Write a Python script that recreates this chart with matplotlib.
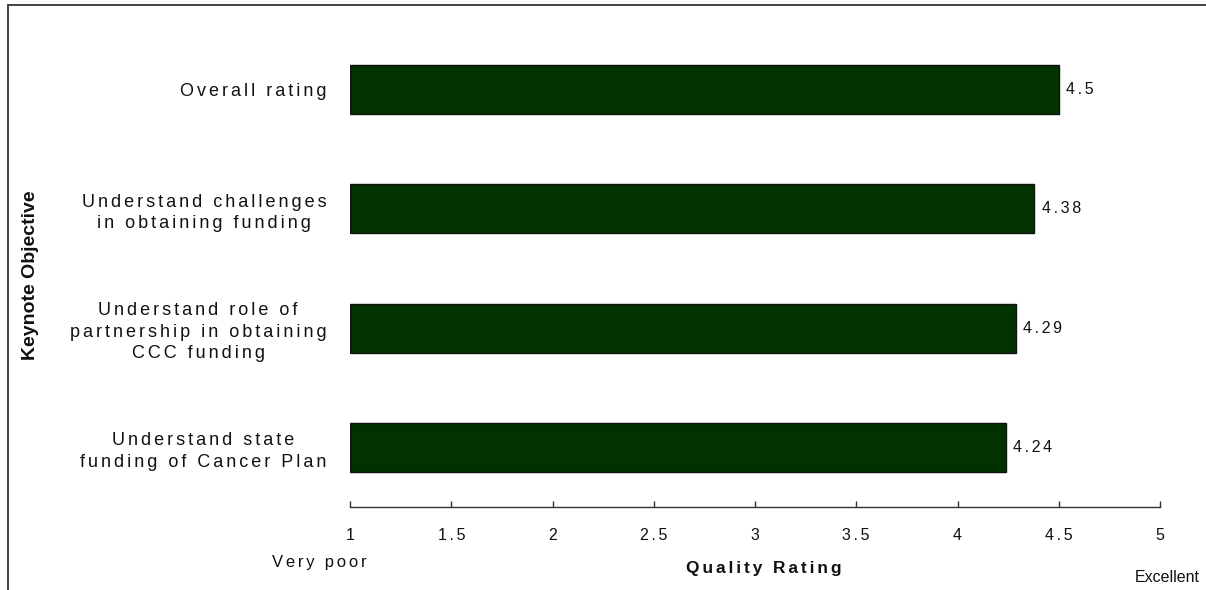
import matplotlib
matplotlib.use("Agg")
import matplotlib.pyplot as plt
from matplotlib.patches import Rectangle

# Keynote objectives (top to bottom) and mean quality ratings
objectives = [
    "Overall rating",
    "Understand challenges\nin obtaining funding",
    "Understand role of\npartnership in obtaining\nCCC funding",
    "Understand state\nfunding of Cancer Plan",
]
ratings = [4.5, 4.38, 4.29, 4.24]
x_ticks = [1, 1.5, 2, 2.5, 3, 3.5, 4, 4.5, 5]
x_ticklabels = ["1", "1.5", "2", "2.5", "3", "3.5", "4", "4.5", "5"]

plt.rcParams["font.family"] = ["Liberation Sans", "DejaVu Sans"]

TRACK = "\u2006"  # six-per-em space used as letter tracking


def tracked(s):
    """Open up letter spacing, line by line."""
    return "\n".join(TRACK.join(line) for line in s.split("\n"))


W, H = 1206, 590
fig = plt.figure(figsize=(W / 100, H / 100), dpi=100)

# outer frame of the chart area (runs off the right and bottom edges)
fig.patches.append(Rectangle((8 / W, -0.2), 2.0, 1 - 5 / H + 0.2,
                             transform=fig.transFigure, fill=False,
                             edgecolor="#333333", linewidth=1.3))

ax = fig.add_axes([350 / W, 83 / H, 810 / W, 477 / H])

ypos = list(range(len(objectives)))[::-1]
ax.barh(ypos, [r - 1 for r in ratings], left=1, height=0.41,
        color="#003300", edgecolor="#111111", linewidth=1.0)

for y, r in zip(ypos, ratings):
    ax.text(r + 0.035, y, tracked(f"{r:g}"), va="center", ha="left",
            fontsize=11.5, color="#111111")

ax.set_xlim(1, 5)
ax.set_ylim(-0.5, len(objectives) - 0.5)
ax.set_xticks(x_ticks)
ax.set_xticklabels([tracked(t) for t in x_ticklabels], fontsize=11.5,
                   color="#111111")
ax.set_yticks(ypos)
ax.set_yticklabels([tracked(o) for o in objectives], fontsize=13,
                   color="#111111", multialignment="center", linespacing=1.35)
ax.tick_params(axis="x", direction="in", length=4, width=1, color="#333333",
               pad=15)
ax.tick_params(axis="y", length=0, pad=17)

for side in ("top", "right", "left"):
    ax.spines[side].set_visible(False)
ax.spines["bottom"].set_color("#333333")
ax.spines["bottom"].set_linewidth(1.0)

# axis captions
fig.text(31 / W, 1 - 275 / H, "Keynote Objective", rotation=90,
         ha="center", va="center", fontsize=14, fontweight="bold",
         family=["Liberation Sans Narrow", "Liberation Sans", "DejaVu Sans"],
         color="#111111")
fig.text(764 / W, 1 - 568 / H, tracked("Quality Rating"), ha="center",
         va="center", fontsize=12.5, fontweight="bold", color="#111111")
fig.text(272 / W, 1 - 563 / H, tracked("Very poor"), ha="left", va="center",
         fontsize=12, color="#111111")
fig.text(1200 / W, 1 - 577 / H, "Excellent", ha="right",
         va="center", fontsize=11.5, color="#111111")

fig.savefig("out.png", dpi=100)
